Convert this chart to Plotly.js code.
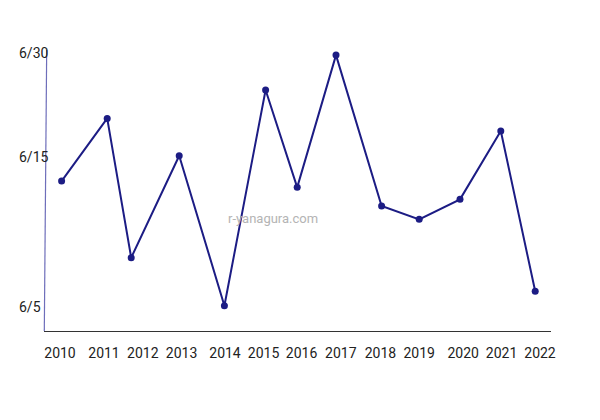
<!DOCTYPE html>
<html>
<head>
<meta charset="utf-8">
<script src="https://cdn.plot.ly/plotly-3.0.1.min.js"></script>
<style>html,body{margin:0;padding:0;background:#fff;}#chart{width:600px;height:420px;}</style>
</head>
<body>
<div id="chart"></div>
<script>
// Point positions along the year axis
const xPositions = [2010.04, 2011.18, 2011.78, 2012.98, 2014.11, 2015.14, 2015.93, 2016.9, 2018.04, 2018.98, 2020.0, 2021.02, 2021.88];
// Values on the date scale (linear units, 6/5 = 5, 6/15 = 15)
const yValues = [13.33, 17.51, 8.22, 15.02, 5.02, 19.4, 12.91, 21.73, 11.67, 10.78, 12.11, 16.67, 5.98];
// X tick labels and their positions
const xTickVals = [2010, 2011.1, 2012.07, 2013.04, 2014.125, 2015.09, 2016.04, 2017.02, 2018.01, 2018.98, 2020.08, 2021.04, 2022];
const xTickText = ['2010','2011','2012','2013','2014','2015','2016','2017','2018','2019','2020','2021','2022'];
// Y tick labels
const yTickVals = [4.93, 14.96, 21.89];
const yTickText = ['6/5', '6/15', '6/30'];

const font = 'Roboto, "DejaVu Sans", sans-serif';

const trace = {
  x: xPositions,
  y: yValues,
  type: 'scatter',
  mode: 'lines+markers',
  line: {color: '#1c1c84', width: 2},
  marker: {color: '#1c1c84', size: 7},
  hoverinfo: 'skip'
};

const annotations = yTickVals.map((v, i) => ({
  xref: 'paper', yref: 'y', x: -0.0533, y: v,
  xanchor: 'left', yanchor: 'middle',
  text: yTickText[i], showarrow: false,
  font: {family: font, size: 14, color: '#222'}
}));
annotations.push({
  xref: 'paper', yref: 'paper', x: 0.451, y: 0.40,
  xanchor: 'center', yanchor: 'middle',
  text: 'r-yanagura.com', showarrow: false,
  font: {family: font, size: 13, color: '#b4b4b4'}
});

const layout = {
  width: 600, height: 420,
  margin: {l: 44, r: 49, t: 50, b: 89},
  paper_bgcolor: '#fff', plot_bgcolor: '#fff',
  showlegend: false,
  xaxis: {
    range: [2009.6, 2022.275],
    tickvals: xTickVals, ticktext: xTickText,
    showgrid: false, zeroline: false,
    showline: true, linecolor: '#333', linewidth: 1,
    ticks: '', ticklabelstandoff: 9,
    tickfont: {family: font, size: 14, color: '#222'}
  },
  yaxis: {
    range: [3.333, 22.07],
    showgrid: false, zeroline: false, showline: false,
    showticklabels: false, ticks: ''
  },
  shapes: [{
    type: 'line', xref: 'paper', yref: 'paper',
    x0: 0.0053, y0: 1, x1: 0.0006, y1: 0,
    line: {color: '#6e6eba', width: 1.2}
  }],
  annotations: annotations
};

Plotly.newPlot('chart', [trace], layout, {displayModeBar: false, staticPlot: true});
</script>
</body>
</html>
